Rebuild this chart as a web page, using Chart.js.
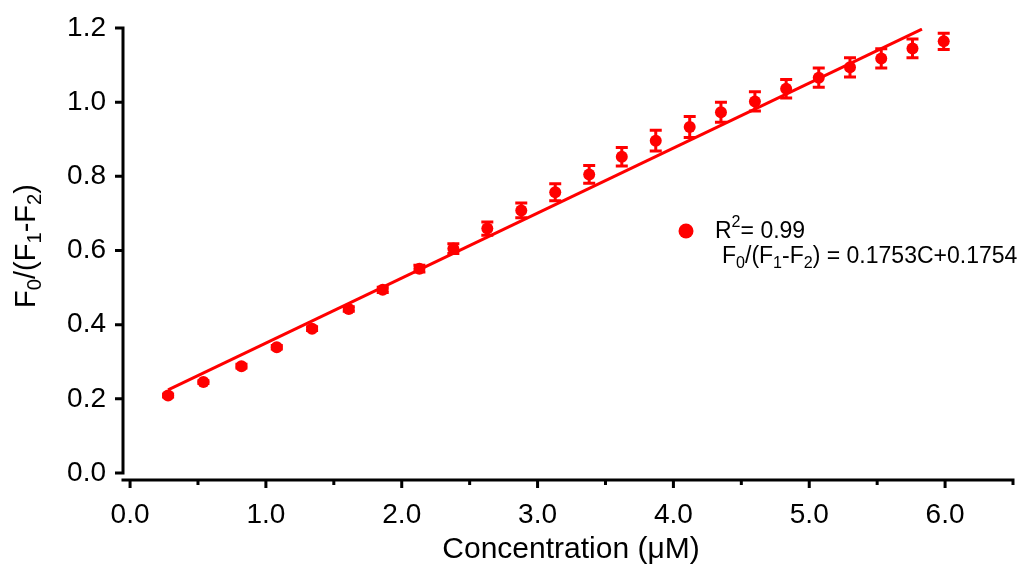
<!DOCTYPE html>
<html lang="en">
<head>
    <meta charset="UTF-8">
    <title>F0/(F1-F2) vs Concentration</title>
    <script src="https://cdn.jsdelivr.net/npm/chart.js"></script>
    <style>
        body {
            margin: 0;
            background: white;
        }
        .wrap {
            width: 1031px;
            height: 564px;
        }
    </style>
</head>
<body>
    <div class="wrap">
        <canvas id="fitChart" width="1031" height="564"></canvas>
    </div>

    <script>
        const concentration = [0.28, 0.54, 0.82, 1.08, 1.34, 1.61, 1.86, 2.13, 2.38, 2.63, 2.88, 3.13,
                               3.38, 3.62, 3.87, 4.12, 4.35, 4.60, 4.83, 5.07, 5.30, 5.53, 5.76, 5.99];
        const ratio = [0.209, 0.245, 0.288, 0.339, 0.389, 0.442, 0.494, 0.551, 0.605, 0.659, 0.708, 0.757,
                       0.805, 0.853, 0.896, 0.933, 0.973, 1.002, 1.036, 1.066, 1.094, 1.118, 1.145, 1.164];
        const ratioErr = [0.004, 0.004, 0.005, 0.005, 0.005, 0.006, 0.007, 0.009, 0.013, 0.018, 0.020, 0.023,
                          0.024, 0.025, 0.028, 0.028, 0.027, 0.026, 0.025, 0.026, 0.026, 0.026, 0.025, 0.022];

        // ends of the fitted line
        const fitX = [0.28, 5.83];
        const fitY = [0.224, 1.197];

        const xTicks = [0, 0.5, 1, 1.5, 2, 2.5, 3, 3.5, 4, 4.5, 5, 5.5, 6, 6.5];
        const yTicks = [0, 0.2, 0.4, 0.6, 0.8, 1.0, 1.2];

        const RED = '#ff0000';
        const FONT = '"Liberation Sans", Arial, Helvetica, sans-serif';

        // draws text pieces; sub/sup parts are smaller and shifted
        function drawRich(ctx, parts, x, y, size, measureOnly) {
            let cx = x;
            parts.forEach(p => {
                let fs = size, dy = 0;
                if (p.sub) { fs = size * 0.7; dy = size * 0.28; }
                if (p.sup) { fs = size * 0.7; dy = -size * 0.42; }
                ctx.font = fs + 'px ' + FONT;
                if (!measureOnly) ctx.fillText(p.t, cx, y + dy);
                cx += ctx.measureText(p.t).width;
            });
            return cx - x;
        }

        const errorBars = {
            id: 'errorBars',
            beforeDatasetsDraw(chart) {
                const { ctx, scales: { x, y } } = chart;
                ctx.save();
                ctx.strokeStyle = RED;
                ctx.lineWidth = 3;
                concentration.forEach((c, i) => {
                    const px = x.getPixelForValue(c);
                    const top = y.getPixelForValue(ratio[i] + ratioErr[i]);
                    const bot = y.getPixelForValue(ratio[i] - ratioErr[i]);
                    ctx.beginPath();
                    ctx.moveTo(px, top); ctx.lineTo(px, bot);
                    ctx.moveTo(px - 6, top); ctx.lineTo(px + 6, top);
                    ctx.moveTo(px - 6, bot); ctx.lineTo(px + 6, bot);
                    ctx.stroke();
                });
                ctx.restore();
            }
        };

        const axesAndText = {
            id: 'axesAndText',
            afterDraw(chart) {
                const { ctx, chartArea, scales: { x, y } } = chart;
                ctx.save();
                ctx.strokeStyle = '#000';
                ctx.lineWidth = 3;
                ctx.lineCap = 'butt';

                // y axis (ends at zero) and its ticks
                const ax = chartArea.left;
                ctx.beginPath();
                ctx.moveTo(ax, y.getPixelForValue(1.2) - 1.5);
                ctx.lineTo(ax, y.getPixelForValue(0) + 1.5);
                yTicks.forEach(v => {
                    const py = y.getPixelForValue(v);
                    ctx.moveTo(ax - 8, py); ctx.lineTo(ax, py);
                });
                ctx.stroke();

                // x axis and its ticks
                const ay = chartArea.bottom;
                ctx.beginPath();
                ctx.moveTo(chartArea.left - 1.5, ay);
                ctx.lineTo(chartArea.right + 1.5, ay);
                xTicks.forEach(v => {
                    const px = x.getPixelForValue(v);
                    const len = Number.isInteger(v) ? 8 : 5;
                    ctx.moveTo(px, ay); ctx.lineTo(px, ay + len);
                });
                ctx.stroke();

                // axis titles
                ctx.fillStyle = '#000';
                ctx.textBaseline = 'middle';
                ctx.font = '30px ' + FONT;
                ctx.textAlign = 'center';
                ctx.fillText('Concentration (\u03bcM)', 571, 550);

                ctx.textAlign = 'left';
                ctx.save();
                ctx.translate(27, 246);
                ctx.rotate(-Math.PI / 2);
                const yTitle = [{ t: 'F' }, { t: '0', sub: true }, { t: '/(F' }, { t: '1', sub: true },
                                { t: '-F' }, { t: '2', sub: true }, { t: ')' }];
                const w = drawRich(ctx, yTitle, 0, 0, 29, true);
                drawRich(ctx, yTitle, -w / 2, 0, 29);
                ctx.restore();

                // legend: marker plus fit text
                ctx.fillStyle = RED;
                ctx.beginPath();
                ctx.arc(686, 231, 7.5, 0, Math.PI * 2);
                ctx.fill();
                ctx.fillStyle = '#000';
                drawRich(ctx, [{ t: 'R' }, { t: '2', sup: true }, { t: '= 0.99' }], 715, 232, 23);
                drawRich(ctx, [{ t: 'F' }, { t: '0', sub: true }, { t: '/(F' }, { t: '1', sub: true },
                               { t: '-F' }, { t: '2', sub: true }, { t: ') = 0.1753C+0.1754' }], 722, 257, 23);
                ctx.restore();
            }
        };

        new Chart(document.getElementById('fitChart'), {
            type: 'scatter',
            data: {
                datasets: [
                    {
                        type: 'line',
                        data: fitX.map((v, i) => ({ x: v, y: fitY[i] })),
                        borderColor: RED,
                        borderWidth: 3,
                        pointRadius: 0,
                        fill: false
                    },
                    {
                        data: concentration.map((v, i) => ({ x: v, y: ratio[i] })),
                        backgroundColor: RED,
                        borderWidth: 0,
                        pointRadius: 6
                    }
                ]
            },
            options: {
                responsive: false,
                animation: false,
                layout: { padding: { top: 28, right: 18, left: 0, bottom: 0 } },
                plugins: {
                    legend: { display: false },
                    tooltip: { enabled: false }
                },
                scales: {
                    x: {
                        type: 'linear',
                        min: -0.052,
                        max: 6.5,
                        afterFit(s) { s.height = 84; },
                        afterBuildTicks(s) { s.ticks = xTicks.map(v => ({ value: v })); },
                        grid: { display: false },
                        border: { display: false },
                        ticks: {
                            color: '#000',
                            padding: 10,
                            maxRotation: 0,
                            autoSkip: false,
                            font: { family: FONT, size: 28 },
                            callback: v => Number.isInteger(v) ? v.toFixed(1) : ''
                        }
                    },
                    y: {
                        min: -0.019,
                        max: 1.2,
                        afterFit(s) { s.width = 123; },
                        afterBuildTicks(s) { s.ticks = yTicks.map(v => ({ value: v })); },
                        grid: { display: false },
                        border: { display: false },
                        ticks: {
                            color: '#000',
                            padding: 9,
                            font: { family: FONT, size: 28 },
                            callback: v => v.toFixed(1)
                        }
                    }
                }
            },
            plugins: [errorBars, axesAndText]
        });
    </script>
</body>
</html>
